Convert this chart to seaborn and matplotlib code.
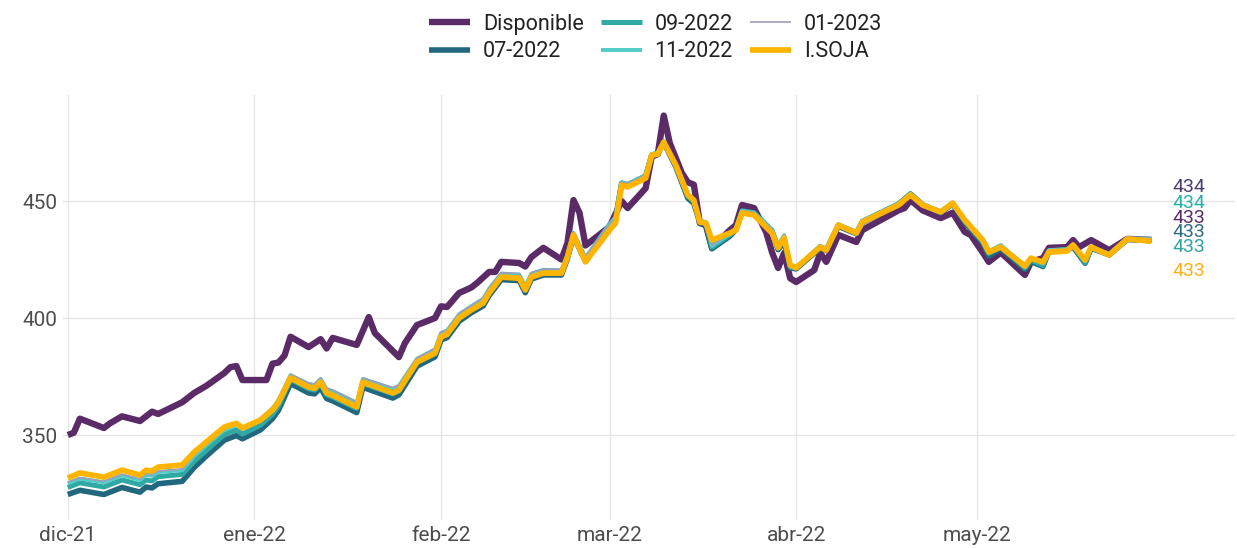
import pandas as pd
import matplotlib.pyplot as plt
import seaborn as sns

# precio disponible (vertices)
fechas_disp = ["2021-12-01", "2021-12-02", "2021-12-03", "2021-12-05", "2021-12-07", "2021-12-08",
               "2021-12-10", "2021-12-13", "2021-12-15", "2021-12-16", "2021-12-18", "2021-12-20",
               "2021-12-22", "2021-12-24", "2021-12-27", "2021-12-28", "2021-12-29", "2021-12-30",
               "2022-01-03", "2022-01-04", "2022-01-05", "2022-01-06", "2022-01-07", "2022-01-10",
               "2022-01-12", "2022-01-13", "2022-01-14", "2022-01-18", "2022-01-20", "2022-01-21",
               "2022-01-25", "2022-01-26", "2022-01-28", "2022-01-31", "2022-02-01", "2022-02-02",
               "2022-02-04", "2022-02-06", "2022-02-07", "2022-02-09", "2022-02-10", "2022-02-11",
               "2022-02-14", "2022-02-15", "2022-02-16", "2022-02-18", "2022-02-21", "2022-02-22",
               "2022-02-23", "2022-02-24", "2022-02-25", "2022-03-01", "2022-03-03", "2022-03-04",
               "2022-03-07", "2022-03-08", "2022-03-09", "2022-03-10", "2022-03-11", "2022-03-13",
               "2022-03-14", "2022-03-15", "2022-03-16", "2022-03-17", "2022-03-18", "2022-03-21",
               "2022-03-22", "2022-03-23", "2022-03-25", "2022-03-27", "2022-03-28", "2022-03-29",
               "2022-03-30", "2022-03-31", "2022-04-01", "2022-04-04", "2022-04-05", "2022-04-06",
               "2022-04-08", "2022-04-11", "2022-04-12", "2022-04-18", "2022-04-19", "2022-04-20",
               "2022-04-22", "2022-04-25", "2022-04-27", "2022-04-29", "2022-04-30", "2022-05-02",
               "2022-05-03", "2022-05-05", "2022-05-09", "2022-05-10", "2022-05-12", "2022-05-13",
               "2022-05-16", "2022-05-17", "2022-05-18", "2022-05-20", "2022-05-23", "2022-05-26",
               "2022-05-30"]
disponible = [350.0, 351.0, 357.0, 355.0, 353.0, 355.0, 358.0, 356.0, 360.0, 359.0, 361.5, 364.0,
              368.0, 371.0, 376.5, 379.0, 379.5, 373.5, 373.5, 380.5, 381.0, 384.0, 392.0, 387.6,
              391.0, 387.0, 391.5, 388.5, 400.4, 393.6, 383.3, 389.3, 397.0, 400.0, 405.0, 404.7,
              410.7, 413.0, 415.0, 419.7, 419.7, 424.0, 423.5, 422.0, 426.0, 430.0, 425.0, 432.0,
              450.4, 445.0, 431.0, 439.0, 450.0, 447.0, 455.5, 469.0, 470.0, 486.5, 474.8, 462.0,
              458.0, 457.0, 440.6, 439.7, 430.0, 437.6, 439.7, 448.3, 447.0, 436.8, 428.0, 421.4,
              427.8, 417.0, 415.4, 420.5, 427.8, 424.0, 435.5, 432.5, 437.6, 446.0, 447.0, 450.4,
              446.0, 442.7, 445.0, 436.8, 435.5, 428.0, 424.0, 428.0, 418.4, 424.0, 425.6, 430.0,
              430.3, 433.3, 430.3, 433.3, 429.0, 433.8, 433.4]

# futuros e indice
fechas_fut = ["2021-12-01", "2021-12-03", "2021-12-07", "2021-12-10", "2021-12-13", "2021-12-14",
              "2021-12-15", "2021-12-16", "2021-12-20", "2021-12-22", "2021-12-24", "2021-12-27",
              "2021-12-29", "2021-12-30", "2022-01-02", "2022-01-04", "2022-01-05", "2022-01-07",
              "2022-01-10", "2022-01-11", "2022-01-12", "2022-01-13", "2022-01-14", "2022-01-18",
              "2022-01-19", "2022-01-24", "2022-01-25", "2022-01-28", "2022-01-31", "2022-02-01",
              "2022-02-02", "2022-02-04", "2022-02-06", "2022-02-08", "2022-02-09", "2022-02-11",
              "2022-02-14", "2022-02-15", "2022-02-16", "2022-02-18", "2022-02-21", "2022-02-22",
              "2022-02-23", "2022-02-25", "2022-03-01", "2022-03-02", "2022-03-03", "2022-03-04",
              "2022-03-07", "2022-03-08", "2022-03-09", "2022-03-10", "2022-03-12", "2022-03-14",
              "2022-03-15", "2022-03-16", "2022-03-17", "2022-03-18", "2022-03-21", "2022-03-22",
              "2022-03-23", "2022-03-25", "2022-03-28", "2022-03-29", "2022-03-30", "2022-03-31",
              "2022-04-01", "2022-04-05", "2022-04-06", "2022-04-08", "2022-04-11", "2022-04-12",
              "2022-04-18", "2022-04-20", "2022-04-22", "2022-04-25", "2022-04-27", "2022-04-29",
              "2022-05-02", "2022-05-03", "2022-05-05", "2022-05-09", "2022-05-10", "2022-05-12",
              "2022-05-13", "2022-05-16", "2022-05-17", "2022-05-19", "2022-05-20", "2022-05-23",
              "2022-05-26", "2022-05-30"]
jul22 = [324.6, 326.4, 324.6, 327.6, 325.6, 327.8, 327.4, 329.2, 330.2, 336.2, 341.0, 347.8,
         349.8, 348.4, 352.2, 357.0, 360.6, 372.0, 368.0, 367.6, 370.2, 365.6, 364.6, 359.6,
         370.4, 365.8, 367.2, 379.4, 383.4, 390.6, 391.6, 398.6, 402.2, 405.2, 409.6, 416.4,
         416.0, 410.8, 416.6, 418.4, 418.4, 425.4, 435.0, 424.2, 439.5, 442.5, 457.4, 456.8,
         460.6, 469.4, 470.2, 475.0, 464.6, 451.2, 449.0, 440.6, 439.8, 429.6, 435.0, 437.8,
         445.6, 444.8, 436.8, 429.2, 432.6, 421.4, 421.0, 430.0, 428.8, 439.2, 436.0, 440.8,
         448.6, 453.0, 448.4, 445.0, 448.8, 441.0, 432.0, 426.4, 429.6, 420.8, 424.2, 422.0,
         428.6, 429.0, 430.4, 423.4, 429.8, 427.0, 433.6, 433.2]
sep22 = [327.6, 329.6, 327.8, 330.8, 328.8, 330.8, 330.4, 332.2, 333.2, 338.8, 343.4, 350.2,
         352.2, 350.4, 354.2, 358.8, 362.4, 373.8, 369.8, 369.2, 371.8, 367.2, 366.2, 361.4,
         372.0, 367.6, 368.8, 381.0, 384.8, 392.0, 393.0, 400.0, 403.6, 406.8, 411.0, 417.8,
         417.4, 412.2, 417.8, 419.6, 419.4, 426.4, 435.8, 425.0, 439.8, 442.8, 457.8, 457.0,
         460.8, 469.8, 470.4, 475.2, 465.0, 452.0, 449.8, 441.4, 440.6, 430.2, 435.6, 438.2,
         445.8, 445.0, 437.4, 430.2, 434.6, 421.8, 421.2, 430.6, 429.4, 439.8, 436.6, 441.4,
         448.8, 453.0, 448.4, 445.4, 449.0, 441.4, 432.6, 427.6, 430.6, 421.4, 424.8, 422.4,
         428.8, 429.2, 430.8, 423.6, 430.0, 427.2, 433.6, 433.0]
nov22 = [329.4, 331.4, 329.8, 332.8, 330.8, 333.0, 332.6, 334.2, 335.0, 341.0, 345.6, 352.2,
         354.2, 352.6, 356.8, 361.4, 365.0, 375.6, 371.8, 371.4, 374.0, 369.6, 368.8, 363.8,
         374.0, 369.8, 371.0, 382.6, 386.6, 393.6, 394.6, 401.6, 405.0, 408.2, 412.6, 419.0,
         418.6, 413.6, 419.0, 420.6, 420.4, 427.2, 436.4, 425.8, 440.2, 443.2, 458.0, 457.4,
         461.0, 470.0, 470.6, 475.4, 465.4, 452.4, 450.2, 441.6, 441.0, 430.8, 436.0, 438.4,
         445.8, 445.0, 437.6, 431.0, 435.4, 422.4, 421.6, 430.8, 429.6, 439.8, 436.6, 441.4,
         448.8, 453.0, 448.6, 445.6, 449.4, 442.0, 433.4, 428.6, 431.2, 422.2, 425.6, 423.4,
         429.0, 429.4, 431.4, 424.4, 430.4, 427.4, 434.0, 433.9]
ene23 = [329.8, 331.8, 330.2, 333.2, 331.2, 333.4, 333.0, 334.6, 335.4, 341.4, 346.0, 352.6,
         354.6, 353.0, 357.2, 361.8, 365.4, 376.0, 372.2, 371.8, 374.4, 370.0, 369.2, 364.2,
         374.4, 370.2, 371.4, 383.0, 387.0, 394.0, 395.0, 402.0, 405.4, 408.6, 413.0, 419.4,
         419.0, 414.0, 419.4, 421.0, 420.8, 427.6, 436.8, 426.2, 440.6, 443.6, 458.2, 457.6,
         461.2, 470.2, 470.8, 475.6, 465.6, 452.6, 450.4, 441.8, 441.2, 431.0, 436.2, 438.6,
         446.0, 445.2, 437.8, 431.2, 435.6, 422.6, 421.8, 431.0, 429.8, 440.0, 436.8, 441.6,
         449.0, 453.2, 448.8, 445.8, 449.6, 442.2, 433.6, 428.8, 431.4, 422.4, 425.8, 423.6,
         429.2, 429.6, 431.6, 424.6, 430.6, 427.6, 434.2, 434.2]
isoja = [331.6, 333.8, 332.0, 335.0, 332.9, 335.0, 334.6, 336.3, 337.2, 342.7, 347.0, 353.4,
         355.0, 353.0, 356.4, 360.7, 364.0, 374.4, 370.5, 370.0, 372.6, 368.0, 367.0, 362.0,
         372.6, 368.0, 369.2, 381.2, 385.0, 392.0, 393.0, 400.0, 403.4, 406.4, 410.7, 417.5,
         417.0, 412.0, 417.5, 419.2, 419.2, 426.0, 435.5, 424.0, 437.6, 440.6, 456.8, 456.0,
         459.8, 469.6, 470.0, 475.2, 465.4, 452.6, 450.4, 441.0, 440.6, 433.3, 436.3, 437.6,
         444.9, 444.0, 436.3, 430.0, 434.2, 422.6, 421.5, 430.3, 429.0, 439.7, 436.3, 441.0,
         448.3, 452.6, 448.3, 445.3, 449.1, 441.9, 433.3, 428.2, 430.3, 422.2, 425.6, 423.9,
         428.2, 428.6, 431.2, 424.8, 430.3, 426.9, 433.8, 432.8]

mes_ticks = ["2021-12-01", "2022-01-01", "2022-02-01", "2022-03-01", "2022-04-01", "2022-05-01"]
mes_labels = ["dic-21", "ene-22", "feb-22", "mar-22", "abr-22", "may-22"]

colores = {"Disponible": "#5a2b66", "07-2022": "#21687f", "09-2022": "#30a9a5",
           "11-2022": "#4fcdc6", "01-2023": "#a09cba", "I.SOJA": "#ffb400"}
grosor = {"Disponible": 4.6, "07-2022": 4.0, "09-2022": 3.6, "11-2022": 2.8,
          "01-2023": 1.2, "I.SOJA": 4.1}

sns.set_theme(style="whitegrid")
plt.rcParams['font.family'] = ['Roboto', 'DejaVu Sans']

fig = plt.figure(figsize=(12.37, 5.48), dpi=100)
ax = fig.add_axes([63 / 1237, 1 - 520 / 548, (1235 - 63) / 1237, (520 - 95) / 548])

series = [("Disponible", fechas_disp, disponible), ("07-2022", fechas_fut, jul22),
          ("09-2022", fechas_fut, sep22), ("11-2022", fechas_fut, nov22),
          ("01-2023", fechas_fut, ene23), ("I.SOJA", fechas_fut, isoja)]
for nombre, f, v in series:
    sns.lineplot(x=pd.to_datetime(f), y=v, ax=ax, color=colores[nombre],
                 linewidth=grosor[nombre], label=nombre, legend=False,
                 solid_joinstyle="round", solid_capstyle="butt")

# etiquetas del ultimo valor, separadas como en el original
orden = ["01-2023", "11-2022", "Disponible", "07-2022", "09-2022", "I.SOJA"]
ultimos = {"Disponible": disponible[-1], "07-2022": jul22[-1], "09-2022": sep22[-1],
           "11-2022": nov22[-1], "01-2023": ene23[-1], "I.SOJA": isoja[-1]}
txt_col = {"01-2023": "#4b3d70", "11-2022": "#26b2aa", "Disponible": "#5a2b66",
           "07-2022": "#2d6b86", "09-2022": "#2ca4a0", "I.SOJA": "#f9b318"}
label_pos = [456.0, 449.2, 442.8, 436.8, 430.4, 420.2]
x_lab = pd.to_datetime(fechas_fut[-1]) + pd.Timedelta(days=3.5)
for nombre, yp in zip(orden, label_pos):
    ax.text(x_lab, yp, f"{ultimos[nombre]:.0f}", color=txt_col[nombre], fontsize=14,
            va="center", ha="left")

ax.set_xlim(pd.Timestamp("2021-12-01") - pd.Timedelta(days=0.8),
            pd.Timestamp("2021-12-01") + pd.Timedelta(days=193.9))
ax.set_ylim(313.7, 495.3)
ax.set_xticks(pd.to_datetime(mes_ticks))
ax.set_xticklabels(mes_labels)
ax.set_yticks([350, 400, 450])
ax.tick_params(axis="both", labelsize=15, colors="#4d4d4d", length=0, pad=4)
ax.grid(True, color="#e6e6e6", linewidth=1.0)
ax.set_xlabel("")
ax.set_ylabel("")
for s in ax.spines.values():
    s.set_visible(False)

handles, labels = ax.get_legend_handles_labels()
leg = fig.legend(handles, labels, ncol=3, loc="upper center", bbox_to_anchor=(0.53, 1.01),
                 frameon=False, fontsize=15.5, handlelength=1.9, columnspacing=0.8,
                 handletextpad=0.6, labelspacing=0.3)
for t in leg.get_texts():
    t.set_color("#222222")

fig.savefig("out.png", dpi=100)
